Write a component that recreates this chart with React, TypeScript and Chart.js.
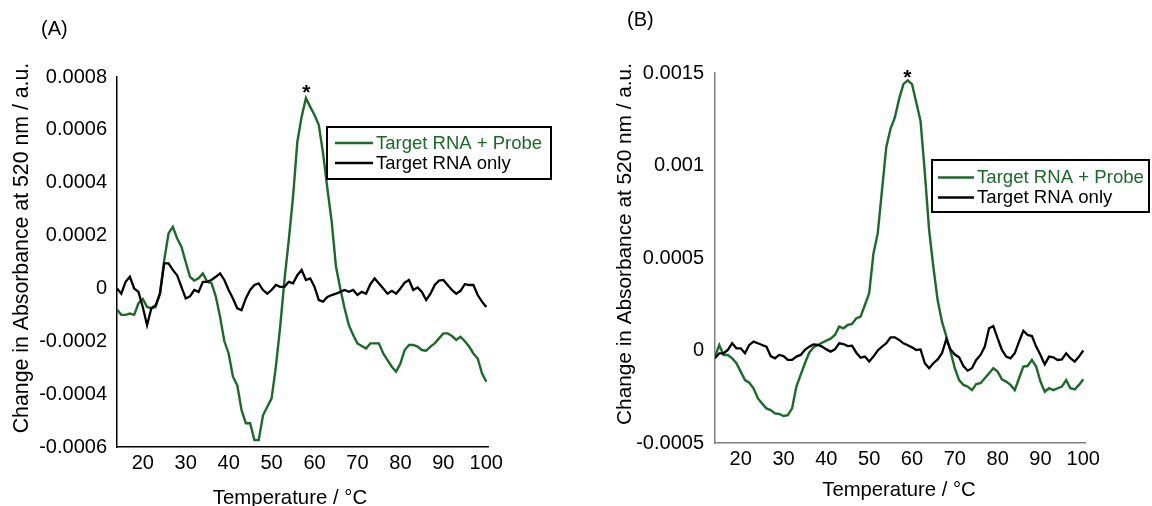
import React, { useEffect, useRef } from "react";
import { Chart, registerables } from "chart.js";

Chart.register(...registerables);

const FONT = "'Liberation Sans', Arial, Helvetica, sans-serif";
const GREEN = "#1a6a28";

// ---------- data ----------
const temperatures = [
  14, 15, 16, 17, 18, 19, 20, 21, 22, 23, 24, 25, 26, 27, 28, 29, 30, 31, 32, 33,
  34, 35, 36, 37, 38, 39, 40, 41, 42, 43, 44, 45, 46, 47, 48, 49, 50, 51, 52, 53,
  54, 55, 56, 57, 58, 59, 60, 61, 62, 63, 64, 65, 66, 67, 68, 69, 70, 71, 72, 73,
  74, 75, 76, 77, 78, 79, 80, 81, 82, 83, 84, 85, 86, 87, 88, 89, 90, 91, 92, 93,
  94, 95, 96, 97, 98, 99, 100,
];

// Panel (A)
const probeA = [
  -0.00008, -0.0001, -0.0001, -0.000095, -0.0001, -0.000056, -0.00004, -0.00007, -0.000075, -0.00007,
  -0.00002, 0.000107, 0.000208, 0.000233, 0.00019, 0.000158, 0.0001, 0.000044, 0.00003, 0.000038,
  0.000057, 0.000025, 0.00002, -0.00003, -0.000107, -0.0002, -0.000246, -0.000334, -0.000366, -0.00046,
  -0.00051, -0.00051, -0.000574, -0.000574, -0.00048, -0.000448, -0.000416, -0.000296, -0.000145, 0.000032,
  0.000183, 0.000347, 0.000555, 0.00065, 0.00072, 0.000687, 0.000656, 0.000618, 0.00051, 0.000378,
  0.000252, 0.000082, 0.0, -0.000075, -0.000139, -0.000176, -0.000208, -0.000218, -0.000227, -0.000208,
  -0.000208, -0.000208, -0.000246, -0.000271, -0.000296, -0.000315, -0.000284, -0.000233, -0.000214, -0.000214,
  -0.00022, -0.000233, -0.000236, -0.00022, -0.000208, -0.000189, -0.00017, -0.00017, -0.00018, -0.000195,
  -0.000183, -0.0002, -0.00022, -0.000246, -0.000265, -0.000321, -0.000353,
];
const rnaOnlyA = [
  0.0, -0.00002, 0.000025, 0.000044, 0.0, -0.000013, -0.00007, -0.000139, -0.000075, -0.000063,
  -0.00002, 0.000095, 0.000095, 0.00007, 0.00005, 0.000006, -0.000038, -0.00003, -0.000006, -0.000013,
  0.000025, 0.000025, 0.000032, 0.000044, 0.000057, 0.000032, -0.000006, -0.000038, -0.000075, -0.000082,
  -0.000038, -0.000006, 0.000013, 0.000019, -0.000006, -0.00002, -0.000006, 0.000013, 0.000006, 0.000006,
  0.000025, 0.000019, 0.00005, 0.00007, 0.000032, 0.000038, 0.000006, -0.000044, -0.00005, -0.000032,
  -0.000025, -0.00002, -0.000013, -0.000006, -0.000013, -0.000006, -0.000025, -0.000013, -0.00002, 0.000016,
  0.000038, 0.000019, 0.0, -0.00002, -0.000009, -0.00002, 0.0, 0.000022, 0.000032, -0.000006,
  0.000004, -0.000013, -0.000044, -0.00002, 0.000013, 0.00003, 0.000032, 0.000013, -0.000006, -0.00002,
  -0.000009, 0.000016, 0.000013, 0.000013, -0.000025, -0.00005, -0.00007,
];

// Panel (B)
const probeB = [
  -0.000033, 0.00003, -0.000024, -0.000024, -0.000042, -0.000069, -0.000114, -0.00016, -0.000174, -0.000204,
  -0.000258, -0.000286, -0.000313, -0.000322, -0.00034, -0.000343, -0.000354, -0.000349, -0.000313, -0.000195,
  -0.000132, -0.000069, -0.000012, 0.000017, 0.00003, 0.000042, 0.000053, 0.000064, 0.000084, 0.000129,
  0.00012, 0.000138, 0.000143, 0.000174, 0.000183, 0.000246, 0.000309, 0.000525, 0.000633, 0.000868,
  0.0011, 0.0012, 0.00126, 0.00136, 0.00144, 0.00146, 0.00144, 0.00134, 0.00124, 0.00096,
  0.00065, 0.00045, 0.00027, 0.000156, 0.000078, -0.000006, -0.000096, -0.00016, -0.000186, -0.000195,
  -0.000214, -0.000181, -0.000177, -0.00015, -0.000123, -0.000096, -0.000114, -0.000156, -0.000168, -0.000186,
  -0.000214, -0.00015, -0.000087, -0.000084, -0.000051, -0.000087, -0.000168, -0.000223, -0.000204, -0.000214,
  -0.000204, -0.000195, -0.00016, -0.000204, -0.00021, -0.000186, -0.000155,
];
const rnaOnlyB = [
  -0.000042, -0.000015, -0.000015, 0.000003, 0.000039, 0.000012, 0.000012, -0.000015, 0.00003, 0.000048,
  0.000039, 0.00003, 0.000021, -0.00003, -0.000042, -0.000024, -0.00003, -0.000051, -0.000051, -0.000033,
  -0.000024, 0.000003, 0.000021, 0.000033, 0.00003, 0.000021, 0.000006, -0.000006, 0.000006, 0.000039,
  0.000035, 0.000024, 0.000026, -0.000012, -0.000039, -0.000033, -0.00006, -0.000033, 0.0, 0.000021,
  0.000039, 0.000071, 0.000071, 0.000057, 0.000039, 0.000028, 0.000017, 0.000003, 0.000006, -0.000069,
  -0.000096, -0.000069, -0.000048, -0.000015, 0.00006, 0.000006, -0.000022, -0.000037, -0.000084, -0.000109,
  -0.000096, -0.000051, -0.000024, 0.000021, 0.00012, 0.000132, 0.000066, 0.000003, -0.000033, -0.000042,
  -0.000015, 0.000048, 0.000107, 0.000084, 0.000078, 0.000021, -0.000024, -0.000075, -0.000033, -0.000037,
  -0.000051, -0.000048, -0.000015, -0.000042, -0.00006, -0.000033, 0.0,
];

const seriesLabels = ["Target RNA + Probe", "Target RNA only"];
const xTickValues = [20, 30, 40, 50, 60, 70, 80, 90, 100];
const yTickValuesA = [-0.0006, -0.0004, -0.0002, 0, 0.0002, 0.0004, 0.0006, 0.0008];
const yTickLabelsA = ["-0.0006", "-0.0004", "-0.0002", "0", "0.0002", "0.0004", "0.0006", "0.0008"];
const yTickValuesB = [-0.0005, 0, 0.0005, 0.001, 0.0015];
const yTickLabelsB = ["-0.0005", "0", "0.0005", "0.001", "0.0015"];
const xTitle = "Temperature / °C";
const yTitle = "Change in Absorbance at 520 nm / a.u.";
const peakA = { temp: 58.1, value: 0.00072, mark: "*" };
const peakB = { temp: 58.9, value: 0.00146, mark: "*" };

// ---------- layout ----------
type Panel = {
  label: string;
  left: number;
  width: number;
  height: number;
  area: { left: number; top: number; right: number; bottom: number };
  yMin: number;
  yMax: number;
  yTicks: number[];
  yLabels: string[];
  yTickPad: number;
  axisColor: string;
  labelPos: [number, number];
  yTitlePos: [number, number];
  yTitleSize: number;
  xTitlePos: [number, number];
  xTitleSize: number;
  starGap: number;
  peak: { temp: number; value: number; mark: string };
  legend: { x: number; y: number; w: number; h: number; lineX0: number; lineX1: number; textX: number; rows: number[]; size: number };
  probe: number[];
  rnaOnly: number[];
};

const panels: Panel[] = [
  {
    label: "(A)",
    left: 0,
    width: 576,
    height: 506,
    area: { left: 117, top: 77, right: 488, bottom: 447 },
    yMin: -0.0006,
    yMax: 0.0008,
    yTicks: yTickValuesA,
    yLabels: yTickLabelsA,
    yTickPad: 10,
    axisColor: "#000000",
    labelPos: [41, 35],
    yTitlePos: [22, 248],
    yTitleSize: 21.3,
    xTitlePos: [290, 498],
    xTitleSize: 20.4,
    starGap: 11,
    peak: peakA,
    legend: { x: 327, y: 127, w: 224, h: 52, lineX0: 335, lineX1: 373, textX: 376, rows: [143, 163], size: 18.5 },
    probe: probeA,
    rnaOnly: rnaOnlyA,
  },
  {
    label: "(B)",
    left: 576,
    width: 576,
    height: 506,
    area: { left: 139, top: 73, right: 509, bottom: 443 },
    yMin: -0.0005,
    yMax: 0.0015,
    yTicks: yTickValuesB,
    yLabels: yTickLabelsB,
    yTickPad: 11,
    axisColor: "#7f7f7f",
    labelPos: [51, 26],
    yTitlePos: [49, 244],
    yTitleSize: 20.8,
    xTitlePos: [323, 490],
    xTitleSize: 20.3,
    starGap: 8,
    peak: peakB,
    legend: { x: 356, y: 160, w: 217, h: 52, lineX0: 362, lineX1: 398, textX: 401, rows: [177.5, 197.5], size: 18.6 },
    probe: probeB,
    rnaOnly: rnaOnlyB,
  },
];

function overlayPlugin(p: Panel) {
  return {
    id: "panelOverlay",
    afterDraw(chart: any) {
      const ctx: CanvasRenderingContext2D = chart.ctx;
      ctx.save();
      ctx.fillStyle = "#000";
      // panel label
      ctx.font = `20px ${FONT}`;
      ctx.textAlign = "left";
      ctx.textBaseline = "alphabetic";
      ctx.fillText(p.label, p.labelPos[0], p.labelPos[1]);
      // y title
      ctx.save();
      ctx.translate(p.yTitlePos[0], p.yTitlePos[1]);
      ctx.rotate(-Math.PI / 2);
      ctx.font = `${p.yTitleSize}px ${FONT}`;
      ctx.textAlign = "center";
      ctx.textBaseline = "middle";
      ctx.fillText(yTitle, 0, 0);
      ctx.restore();
      // x title
      ctx.font = `${p.xTitleSize}px ${FONT}`;
      ctx.textAlign = "center";
      ctx.textBaseline = "middle";
      ctx.fillText(xTitle, p.xTitlePos[0], p.xTitlePos[1]);
      // peak mark
      const xs = chart.scales.x;
      const ys = chart.scales.y;
      const sx = xs.getPixelForValue(p.peak.temp);
      const sy = ys.getPixelForValue(p.peak.value) - p.starGap;
      ctx.font = `bold 21px ${FONT}`;
      ctx.textAlign = "center";
      ctx.textBaseline = "alphabetic";
      ctx.fillText(p.peak.mark, sx, sy + 12);
      // legend
      const lg = p.legend;
      ctx.lineWidth = 2;
      ctx.strokeStyle = "#000";
      ctx.strokeRect(lg.x, lg.y, lg.w, lg.h);
      const colors = [GREEN, "#000000"];
      ctx.font = `${lg.size}px ${FONT}`;
      ctx.textAlign = "left";
      ctx.textBaseline = "middle";
      seriesLabels.forEach((name, i) => {
        const y = lg.rows[i];
        ctx.strokeStyle = colors[i];
        ctx.lineWidth = 2.3;
        ctx.beginPath();
        ctx.moveTo(lg.lineX0, y);
        ctx.lineTo(lg.lineX1, y);
        ctx.stroke();
        ctx.fillStyle = colors[i];
        ctx.fillText(name, lg.textX, y + 0.5);
      });
      ctx.restore();
    },
  };
}

function makeChart(canvas: HTMLCanvasElement, p: Panel) {
  const toPoints = (vals: number[]) => temperatures.map((t, i) => ({ x: t, y: vals[i] }));
  return new Chart(canvas, {
    type: "line",
    data: {
      datasets: [
        {
          label: seriesLabels[0],
          data: toPoints(p.probe),
          borderColor: GREEN,
          backgroundColor: GREEN,
          borderWidth: 2.4,
          pointRadius: 0,
          tension: 0,
          fill: false,
          order: 1,
        },
        {
          label: seriesLabels[1],
          data: toPoints(p.rnaOnly),
          borderColor: "#000000",
          backgroundColor: "#000000",
          borderWidth: 2.3,
          pointRadius: 0,
          tension: 0,
          fill: false,
          order: 0,
        },
      ],
    },
    options: {
      responsive: false,
      animation: false,
      devicePixelRatio: 1,
      layout: {
        padding: { left: 0, top: p.area.top, right: p.width - p.area.right, bottom: 0 },
      },
      plugins: {
        legend: { display: false },
        tooltip: { enabled: false },
        title: { display: false },
      },
      scales: {
        x: {
          type: "linear",
          bounds: "data",
          min: 14,
          max: 100.4,
          grid: { display: false, drawTicks: false },
          border: { display: true, color: p.axisColor, width: 1.5 },
          ticks: {
            padding: 4,
            color: "#000",
            font: { family: FONT, size: 20 },
            autoSkip: false,
            maxRotation: 0,
            callback: (v: any) => String(v),
          },
          afterBuildTicks: (s: any) => {
            s.ticks = xTickValues.map((v) => ({ value: v }));
          },
          afterFit: (s: any) => {
            s.height = p.height - p.area.bottom;
          },
        },
        y: {
          type: "linear",
          bounds: "data",
          min: p.yMin,
          max: p.yMax,
          grid: { display: false, drawTicks: false },
          border: { display: true, color: p.axisColor, width: 1.5 },
          ticks: {
            padding: p.yTickPad,
            color: "#000",
            font: { family: FONT, size: 20 },
            autoSkip: false,
            callback: (_v: any, i: number) => p.yLabels[i],
          },
          afterBuildTicks: (s: any) => {
            s.ticks = p.yTicks.map((v) => ({ value: v }));
          },
          afterFit: (s: any) => {
            s.width = p.area.left;
          },
        },
      },
    } as any,
    plugins: [overlayPlugin(p)],
  });
}

function PanelChart({ p }: { p: Panel }) {
  const ref = useRef<HTMLCanvasElement | null>(null);
  useEffect(() => {
    if (!ref.current) return;
    const chart = makeChart(ref.current, p);
    return () => chart.destroy();
  }, [p]);
  return (
    <canvas
      ref={ref}
      width={p.width}
      height={p.height}
      style={{ position: "absolute", left: p.left, top: 0, width: p.width, height: p.height }}
    />
  );
}

export default function App() {
  return (
    <div style={{ position: "absolute", left: 0, top: 0, width: 1152, height: 506, background: "#fff", overflow: "hidden" }}>
      {panels.map((p) => (
        <PanelChart key={p.label} p={p} />
      ))}
    </div>
  );
}
